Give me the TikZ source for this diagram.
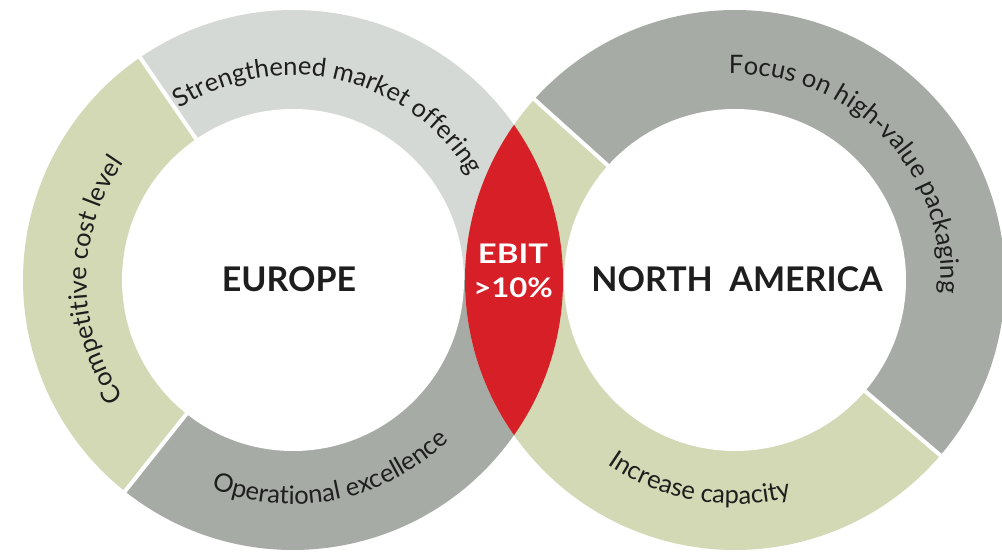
\documentclass[tikz,border=0pt]{standalone}
\usepackage{fontspec}
\setmainfont{Lato}
\usetikzlibrary{decorations.text,calc}
\definecolor{ringgreen}{HTML}{D2D9B4}
\definecolor{ringlight}{HTML}{D5D9D5}
\definecolor{ringdark}{HTML}{A6ACA5}
\definecolor{lensred}{HTML}{D71F27}
\definecolor{txtdark}{HTML}{1E1E1E}
\newcommand\ringfont{\fontsize{25.5}{30}\selectfont\color{txtdark}}
\newcommand\titlefont{\fontsize{34}{40}\selectfont\bfseries}
\begin{document}
\begin{tikzpicture}[x=1pt,y=1pt,
  divider/.style={white,line width=4pt},
  arctext/.style={decorate,decoration={text along path,text align=center,text={#1}}},
  titlenode/.style={font=\titlefont,text=txtdark,inner sep=0pt},
  lensnode/.style={font=\fontsize{27}{34}\selectfont\bfseries,text=white,align=center,inner sep=0pt}
]
\useasboundingbox (0,0) rectangle (1002,552);
\coordinate (L) at (293,272);
\coordinate (R) at (735,272);
\def\Ro{270}\def\Ri{171}
% left ring
\fill[ringlight] (L) -- ++(0:\Ro) arc[start angle=0,end angle=124.5,radius=\Ro] -- cycle;
\fill[ringgreen] (L) -- ++(124.5:\Ro) arc[start angle=124.5,end angle=231.5,radius=\Ro] -- cycle;
\fill[ringdark] (L) -- ++(231.5:\Ro) arc[start angle=231.5,end angle=360,radius=\Ro] -- cycle;
\fill[white] (L) circle[radius=\Ri];
\draw[divider] ($(L)+(124.5:\Ri-3)$) -- ($(L)+(124.5:\Ro+3)$);
\draw[divider] ($(L)+(231.5:\Ri-3)$) -- ($(L)+(231.5:\Ro+3)$);
% right ring
\fill[ringdark] (R) -- ++(-40.5:\Ro) arc[start angle=-40.5,end angle=138,radius=\Ro] -- cycle;
\fill[ringgreen] (R) -- ++(138:\Ro) arc[start angle=138,end angle=319.5,radius=\Ro] -- cycle;
\fill[white] (R) circle[radius=\Ri];
\draw[divider] ($(R)+(138:\Ri-3)$) -- ($(R)+(138:\Ro+3)$);
\draw[divider] ($(R)+(-40.5:\Ri-3)$) -- ($(R)+(-40.5:\Ro+3)$);
% lens
\begin{scope}
  \clip (L) circle[radius=\Ro];
  \fill[lensred] (R) circle[radius=\Ro];
\end{scope}
% curved labels
\path[arctext={|\ringfont|Strengthened market offering}] (L) ++(170:205) arc[start angle=170,end angle=-16,radius=205];
\path[arctext={|\ringfont|Competitive cost level}] (L) ++(250:206) arc[start angle=250,end angle=110,radius=206];
\path[arctext={|\ringfont|Operational excellence}] (L) ++(201.4:224) arc[start angle=201.4,end angle=361.4,radius=224];
\path[arctext={|\ringfont|Increase capacity}] (R) ++(180:224) arc[start angle=180,end angle=340,radius=224];
\path[arctext={|\ringfont|Focus on high-value packaging}] (R) ++(134:206) arc[start angle=134,end angle=-46,radius=206];
% titles
\node[titlenode] (eu) at (289,273) {EUROPE};
\node[titlenode] (na) at (737,273) {NORTH\ \ AMERICA};
\node[lensnode] (ebit) at (513,281) {\scalebox{1.22}[1]{EBIT}\\\scalebox{1.15}[1]{>10\%}};
\end{tikzpicture}
\end{document}
